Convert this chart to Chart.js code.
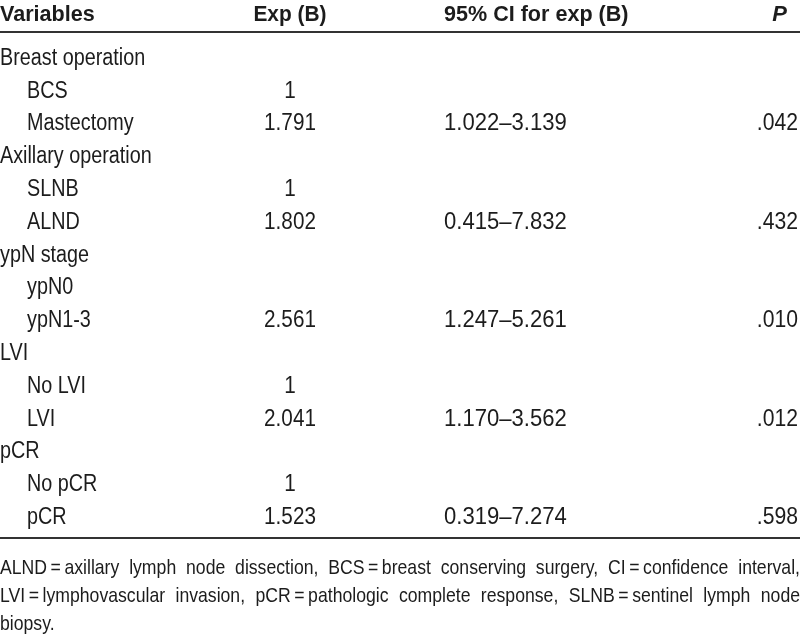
<!DOCTYPE html>
<html lang="en">
<head>
    <meta charset="UTF-8">
    <title>Exp (B) table</title>
    <script src="https://cdn.jsdelivr.net/npm/chart.js"></script>
    <style>
        html, body {
            margin: 0;
            padding: 0;
            background: #fff;
        }
        #box {
            width: 800px;
            height: 635px;
        }
    </style>
</head>
<body>
    <div id="box"><canvas id="tableChart" width="800" height="635"></canvas></div>

    <script>
        // table content
        const headers = ['Variables', 'Exp (B)', '95% CI for exp (B)', 'P'];
        const variables = ['Breast operation', 'BCS', 'Mastectomy', 'Axillary operation', 'SLNB', 'ALND',
            'ypN stage', 'ypN0', 'ypN1-3', 'LVI', 'No LVI', 'LVI', 'pCR', 'No pCR', 'pCR'];
        const level = [0, 1, 1, 0, 1, 1, 0, 1, 1, 0, 1, 1, 0, 1, 1];
        const expB = ['', '1', '1.791', '', '1', '1.802', '', '', '2.561', '', '1', '2.041', '', '1', '1.523'];
        const ciExpB = ['', '', '1.022–3.139', '', '', '0.415–7.832', '', '', '1.247–5.261', '', '', '1.170–3.562', '', '', '0.319–7.274'];
        const pValues = ['', '', '.042', '', '', '.432', '', '', '.010', '', '', '.012', '', '', '.598'];
        const footnoteLines = [
            'ALND\u2009=\u2009axillary lymph node dissection, BCS\u2009=\u2009breast conserving surgery, CI\u2009=\u2009confidence interval,',
            'LVI\u2009=\u2009lymphovascular invasion, pCR\u2009=\u2009pathologic complete response, SLNB\u2009=\u2009sentinel lymph node',
            'biopsy.'
        ];

        // layout (x in scale units 0..800, y in row units)
        const colX = { label: 0, indent: 27, exp: 290, ci: 444, p: 798 };
        const rowY = { header: -0.33, topRule: 0.24, bottomRule: 15.66, note: 16.55, noteStep: 0.853 };
        const FONT = '"Liberation Sans", Arial, sans-serif';
        const INK = '#1c1c1c';
        const NUDGE = 1.5; // visual centring of glyphs

        function drawText(ctx, text, x, y, align, font, squeeze) {
            ctx.save();
            ctx.font = font;
            ctx.textBaseline = 'middle';
            const w = ctx.measureText(text).width * squeeze;
            let left = x;
            if (align === 'center') left = x - w / 2;
            if (align === 'right') left = x - w;
            ctx.translate(left, y + NUDGE);
            ctx.scale(squeeze, 1);
            ctx.textAlign = 'left';
            ctx.fillText(text, 0, 0);
            ctx.restore();
        }

        const tablePlugin = {
            id: 'tablePlugin',
            afterDraw(chart) {
                const ctx = chart.ctx;
                const x = chart.scales.x;
                const y = chart.scales.y;
                ctx.fillStyle = INK;

                // header
                const hy = y.getPixelForValue(rowY.header);
                const bold = 'bold 22px ' + FONT;
                drawText(ctx, headers[0], x.getPixelForValue(colX.label), hy, 'left', bold, 0.98);
                drawText(ctx, headers[1], x.getPixelForValue(colX.exp), hy, 'center', bold, 0.95);
                drawText(ctx, headers[2], x.getPixelForValue(colX.ci), hy, 'left', bold, 0.98);
                drawText(ctx, headers[3], x.getPixelForValue(colX.p) - 11, hy, 'right', 'italic bold 22px ' + FONT, 1);

                // rules
                ctx.save();
                ctx.strokeStyle = '#333';
                ctx.lineWidth = 2;
                [rowY.topRule, rowY.bottomRule].forEach(v => {
                    const py = Math.round(y.getPixelForValue(v));
                    ctx.beginPath();
                    ctx.moveTo(chart.chartArea.left, py);
                    ctx.lineTo(chart.chartArea.right, py);
                    ctx.stroke();
                });
                ctx.restore();

                // body rows
                const body = '23px ' + FONT;
                variables.forEach((name, i) => {
                    const py = y.getPixelForValue(i + 1);
                    const lx = level[i] ? colX.indent : colX.label;
                    drawText(ctx, name, x.getPixelForValue(lx), py, 'left', body, 0.86);
                    if (expB[i]) drawText(ctx, expB[i], x.getPixelForValue(colX.exp), py, 'center', body, 0.9);
                    if (ciExpB[i]) drawText(ctx, ciExpB[i], x.getPixelForValue(colX.ci), py, 'left', body, 0.96);
                    if (pValues[i]) drawText(ctx, pValues[i], x.getPixelForValue(colX.p), py, 'right', body, 0.92);
                });

                // footnote, justified except the last line
                const noteFont = '21px ' + FONT;
                const sq = 0.84;
                const left = chart.chartArea.left;
                const width = chart.chartArea.right - left;
                footnoteLines.forEach((line, li) => {
                    const words = line.split(' ');
                    const py = y.getPixelForValue(rowY.note + li * rowY.noteStep);
                    ctx.save();
                    ctx.font = noteFont;
                    const widths = words.map(w => ctx.measureText(w).width * sq);
                    const spaceW = ctx.measureText(' ').width * sq;
                    ctx.restore();
                    const total = widths.reduce((a, b) => a + b, 0);
                    const last = li === footnoteLines.length - 1;
                    const gap = (!last && words.length > 1) ? (width - total) / (words.length - 1) : spaceW;
                    let cx = left;
                    words.forEach((w, k) => {
                        drawText(ctx, w, cx, py, 'left', noteFont, sq);
                        cx += widths[k] + gap;
                    });
                });
            }
        };

        const ctx = document.getElementById('tableChart').getContext('2d');
        const chart = new Chart(ctx, {
            type: 'scatter',
            data: {
                datasets: [{
                    label: 'Exp (B)',
                    data: expB.map((v, i) => v ? { x: colX.exp, y: i + 1 } : null).filter(d => d),
                    pointRadius: 0,
                    pointHoverRadius: 0
                }]
            },
            options: {
                responsive: false,
                animation: false,
                events: [],
                layout: { padding: 0 },
                plugins: {
                    legend: { display: false },
                    tooltip: { enabled: false }
                },
                scales: {
                    x: { type: 'linear', min: 0, max: 800, display: false },
                    y: { type: 'linear', min: -0.738, max: 18.62, reverse: true, display: false }
                }
            },
            plugins: [tablePlugin]
        });
    </script>
</body>
</html>
